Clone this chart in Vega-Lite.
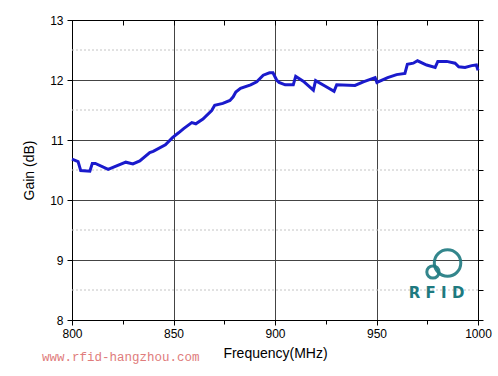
{
  "$schema": "https://vega.github.io/schema/vega-lite/v6.json",
  "width": 406,
  "height": 300,
  "autosize": {"type": "none"},
  "padding": {"left": 72, "top": 20, "right": 20, "bottom": 56},
  "background": "white",
  "config": {
    "view": {"stroke": "#000000", "strokeWidth": 1},
    "font": "Liberation Sans",
    "axis": {"domainColor": "#000000", "tickColor": "#000000", "labelColor": "#000000", "titleColor": "#000000", "labelFontSize": 12, "titleFontWeight": "normal", "labelFont": "Liberation Sans", "titleFont": "Liberation Sans", "labelFlush": false, "labelOverlap": false}
  },
  "datasets": {
    "gain": [
      {"freq": 800, "gain": 10.68},
      {"freq": 803, "gain": 10.64},
      {"freq": 804.3, "gain": 10.49},
      {"freq": 808.8, "gain": 10.48},
      {"freq": 810, "gain": 10.61},
      {"freq": 811.5, "gain": 10.61},
      {"freq": 817.8, "gain": 10.51},
      {"freq": 826.5, "gain": 10.63},
      {"freq": 830, "gain": 10.6},
      {"freq": 833.4, "gain": 10.65},
      {"freq": 838.3, "gain": 10.79},
      {"freq": 840, "gain": 10.81},
      {"freq": 846, "gain": 10.92},
      {"freq": 849.5, "gain": 11.04},
      {"freq": 852.5, "gain": 11.12},
      {"freq": 855, "gain": 11.19},
      {"freq": 859, "gain": 11.29},
      {"freq": 861, "gain": 11.27},
      {"freq": 864.5, "gain": 11.35},
      {"freq": 868.8, "gain": 11.49},
      {"freq": 870.3, "gain": 11.58},
      {"freq": 874.3, "gain": 11.61},
      {"freq": 877.8, "gain": 11.66},
      {"freq": 879.4, "gain": 11.72},
      {"freq": 880.7, "gain": 11.8},
      {"freq": 883, "gain": 11.86},
      {"freq": 888, "gain": 11.92},
      {"freq": 891, "gain": 11.97},
      {"freq": 894.2, "gain": 12.08},
      {"freq": 897.3, "gain": 12.12},
      {"freq": 899, "gain": 12.12},
      {"freq": 900.8, "gain": 12.0},
      {"freq": 902, "gain": 11.96},
      {"freq": 905, "gain": 11.92},
      {"freq": 909, "gain": 11.92},
      {"freq": 910.2, "gain": 12.06},
      {"freq": 913.9, "gain": 11.98},
      {"freq": 918.9, "gain": 11.83},
      {"freq": 920, "gain": 11.99},
      {"freq": 924.6, "gain": 11.9},
      {"freq": 929.1, "gain": 11.81},
      {"freq": 930.4, "gain": 11.92},
      {"freq": 939.4, "gain": 11.91},
      {"freq": 943.5, "gain": 11.97},
      {"freq": 949.3, "gain": 12.04},
      {"freq": 950.2, "gain": 11.96},
      {"freq": 955.5, "gain": 12.04},
      {"freq": 959.9, "gain": 12.09},
      {"freq": 964, "gain": 12.11},
      {"freq": 965.2, "gain": 12.26},
      {"freq": 968.1, "gain": 12.28},
      {"freq": 970.2, "gain": 12.32},
      {"freq": 974.7, "gain": 12.25},
      {"freq": 978.9, "gain": 12.21},
      {"freq": 980.2, "gain": 12.31},
      {"freq": 984.6, "gain": 12.31},
      {"freq": 988.7, "gain": 12.28},
      {"freq": 990.5, "gain": 12.22},
      {"freq": 993.6, "gain": 12.21},
      {"freq": 996.9, "gain": 12.24},
      {"freq": 999.2, "gain": 12.25},
      {"freq": 1000, "gain": 12.16}
    ],
    "minorgrid": [{"gain": 8.5}, {"gain": 9.5}, {"gain": 10.5}, {"gain": 11.5}, {"gain": 12.5}],
    "watermark": [{"freq": 824, "gain": 7.39, "text": "www.rfid-hangzhou.com"}],
    "logotext": [{"freq": 979.6, "gain": 8.455, "text": "R F I D"}],
    "logorings": [
      {"freq": 985, "gain": 8.95, "sz": 700},
      {"freq": 977.8, "gain": 8.8, "sz": 150}
    ]
  },
  "layer": [
    {
      "data": {"name": "minorgrid"},
      "mark": {"type": "rule", "color": "#c4c4c4", "strokeWidth": 1, "strokeDash": [2, 2]},
      "encoding": {
        "y": {"field": "gain", "type": "quantitative", "scale": {"domain": [8, 13], "nice": false, "zero": false}, "axis": null}
      }
    },
    {
      "data": {"name": "gain"},
      "mark": {"type": "line", "opacity": 0},
      "encoding": {
        "x": {"field": "freq", "type": "quantitative", "scale": {"domain": [800, 1000], "nice": false, "zero": false},
          "axis": {"orient": "top", "values": [800, 825, 850, 875, 900, 925, 950, 975, 1000], "labels": false, "title": null, "grid": false, "tickSize": -5}},
        "y": {"field": "gain", "type": "quantitative", "scale": {"domain": [8, 13], "nice": false, "zero": false},
          "axis": {"orient": "right", "values": [8, 8.5, 9, 9.5, 10, 10.5, 11, 11.5, 12, 12.5, 13], "labels": false, "title": null, "grid": false, "tickSize": 5}}
      }
    },
    {
      "data": {"name": "gain"},
      "mark": {"type": "line", "color": "#1a1acc", "strokeWidth": 3},
      "encoding": {
        "x": {"field": "freq", "type": "quantitative", "scale": {"domain": [800, 1000], "nice": false, "zero": false},
          "axis": {"orient": "bottom", "values": [800, 825, 850, 875, 900, 925, 950, 975, 1000], "format": "d",
            "labelExpr": "datum.value % 50 === 0 ? datum.label : ''",
            "tickSize": {"condition": {"test": "datum.value % 50 !== 0", "value": 4}, "value": 5},
            "grid": true, "gridColor": "#444444", "gridWidth": 1,
            "gridOpacity": {"condition": {"test": "datum.value % 50 !== 0", "value": 0}, "value": 1},
            "labelPadding": 3, "title": "Frequency(MHz)", "titleFontSize": 14, "titlePadding": 7}},
        "y": {"field": "gain", "type": "quantitative", "scale": {"domain": [8, 13], "nice": false, "zero": false},
          "axis": {"orient": "left", "values": [8, 8.5, 9, 9.5, 10, 10.5, 11, 11.5, 12, 12.5, 13], "format": "d",
            "labelExpr": "datum.value % 1 === 0 ? datum.label : ''",
            "tickSize": {"condition": {"test": "datum.value % 1 !== 0", "value": 4}, "value": 5},
            "grid": true, "gridColor": "#444444",
            "gridOpacity": {"condition": {"test": "datum.value % 1 !== 0", "value": 0}, "value": 1},
            "labelPadding": 4, "title": "Gain (dB)", "titleFontSize": 14, "titlePadding": 13}}
      }
    },
    {
      "data": {"name": "watermark"},
      "mark": {"type": "text", "font": "Liberation Mono", "fontSize": 12.5, "color": "#e07c7c", "align": "center", "baseline": "middle"},
      "encoding": {
        "x": {"field": "freq", "type": "quantitative", "scale": {"domain": [800, 1000], "nice": false, "zero": false}, "axis": null},
        "y": {"field": "gain", "type": "quantitative", "scale": {"domain": [8, 13], "nice": false, "zero": false}, "axis": null},
        "text": {"field": "text"}
      }
    },
    {
      "data": {"name": "logorings"},
      "mark": {"type": "point", "shape": "circle", "filled": false, "color": "#1e7a80", "strokeWidth": 3, "opacity": 0.9},
      "encoding": {
        "x": {"field": "freq", "type": "quantitative", "scale": {"domain": [800, 1000], "nice": false, "zero": false}, "axis": null},
        "y": {"field": "gain", "type": "quantitative", "scale": {"domain": [8, 13], "nice": false, "zero": false}, "axis": null},
        "size": {"field": "sz", "type": "quantitative", "scale": null, "legend": null}
      }
    },
    {
      "data": {"name": "logotext"},
      "mark": {"type": "text", "font": "DejaVu Sans", "fontWeight": "bold", "fontSize": 15, "color": "#1e7a80", "align": "center", "baseline": "middle"},
      "encoding": {
        "x": {"field": "freq", "type": "quantitative", "scale": {"domain": [800, 1000], "nice": false, "zero": false}, "axis": null},
        "y": {"field": "gain", "type": "quantitative", "scale": {"domain": [8, 13], "nice": false, "zero": false}, "axis": null},
        "text": {"field": "text"}
      }
    }
  ],
  "resolve": {"axis": {"x": "independent", "y": "independent"}}
}
